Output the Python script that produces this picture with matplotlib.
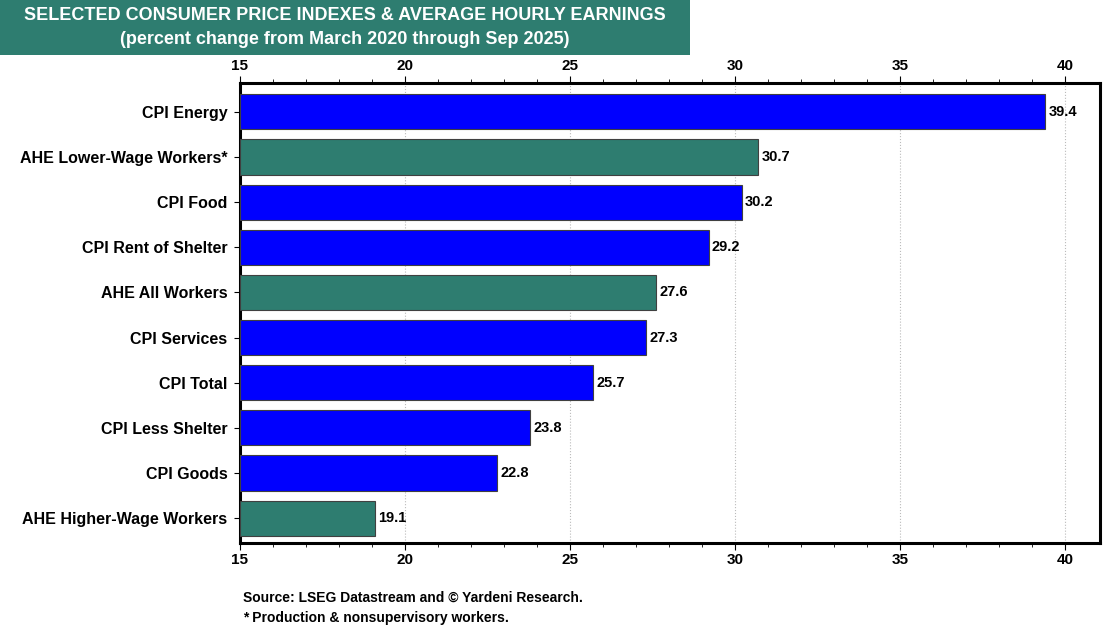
import matplotlib
matplotlib.use("Agg")
import matplotlib.pyplot as plt
from matplotlib.ticker import MultipleLocator, FixedLocator
from matplotlib.patches import Rectangle

plt.rcParams['font.family'] = ['Liberation Sans', 'DejaVu Sans']

categories = ["CPI Energy", "AHE Lower-Wage Workers*", "CPI Food", "CPI Rent of Shelter",
              "AHE All Workers", "CPI Services", "CPI Total", "CPI Less Shelter",
              "CPI Goods", "AHE Higher-Wage Workers"]
values = [39.4, 30.7, 30.2, 29.2, 27.6, 27.3, 25.7, 23.8, 22.8, 19.1]
kinds = ["CPI", "AHE", "CPI", "CPI", "AHE", "CPI", "CPI", "CPI", "CPI", "AHE"]

BLUE = "#0000FF"
TEAL = "#2E7D70"
colors = [BLUE if k == "CPI" else TEAL for k in kinds]

fig = plt.figure(figsize=(11.2, 6.3), dpi=100)
ax = fig.add_axes([240/1120, 1-543/630, 860/1120, 460/630])

base = 15
ypos = list(range(len(categories)))
ax.barh(ypos, [v - base for v in values], left=base, height=0.78,
        color=colors, edgecolor="#404040", linewidth=0.8, zorder=3)
for y, v in zip(ypos, values):
    ax.text(v + 0.1, y, f"{v:.1f}", va="center", ha="left",
            fontsize=10.5, fontweight="bold", color="black", zorder=4)

ax.set_xlim(15, 41.06)
ax.set_ylim(9.55, -0.64)
ax.set_yticks(ypos)
ax.set_yticklabels(categories, fontsize=11.5, fontweight="bold")
ax.xaxis.set_major_locator(MultipleLocator(5))
ax.xaxis.set_minor_locator(FixedLocator([x for x in range(15, 41) if x % 5 != 0]))
ax.tick_params(axis="x", which="both", top=True, labeltop=True, direction="out")
ax.tick_params(axis="x", which="major", length=5, labelsize=11, pad=2)
ax.tick_params(axis="x", which="minor", length=3)
ax.tick_params(axis="y", length=4, pad=5)
for lab in ax.get_xticklabels():
    lab.set_fontweight("bold")
ax.grid(axis="x", which="major", linestyle=":", color="#BBBBBB", linewidth=0.8, zorder=0)
for s in ax.spines.values():
    s.set_linewidth(2.2)
    s.set_color("black")

# title box
fig.patches.append(Rectangle((0, 1-55/630), 690/1120, 55/630, transform=fig.transFigure,
                             facecolor=TEAL, edgecolor="none", zorder=0))
fig.text(345/1120, 1-16/630, "SELECTED CONSUMER PRICE INDEXES & AVERAGE HOURLY EARNINGS",
         ha="center", va="center", color="white", fontsize=13, fontweight="bold")
fig.text(345/1120, 1-40/630, "(percent change from March 2020 through Sep 2025)",
         ha="center", va="center", color="white", fontsize=13, fontweight="bold")

fig.text(243/1120, 1-598/630, "Source: LSEG Datastream and © Yardeni Research.",
         ha="left", va="center", fontsize=10, fontweight="bold")
fig.text(243/1120, 1-618/630, "* Production & nonsupervisory workers.",
         ha="left", va="center", fontsize=10, fontweight="bold")

fig.savefig("out.png", dpi=100)
